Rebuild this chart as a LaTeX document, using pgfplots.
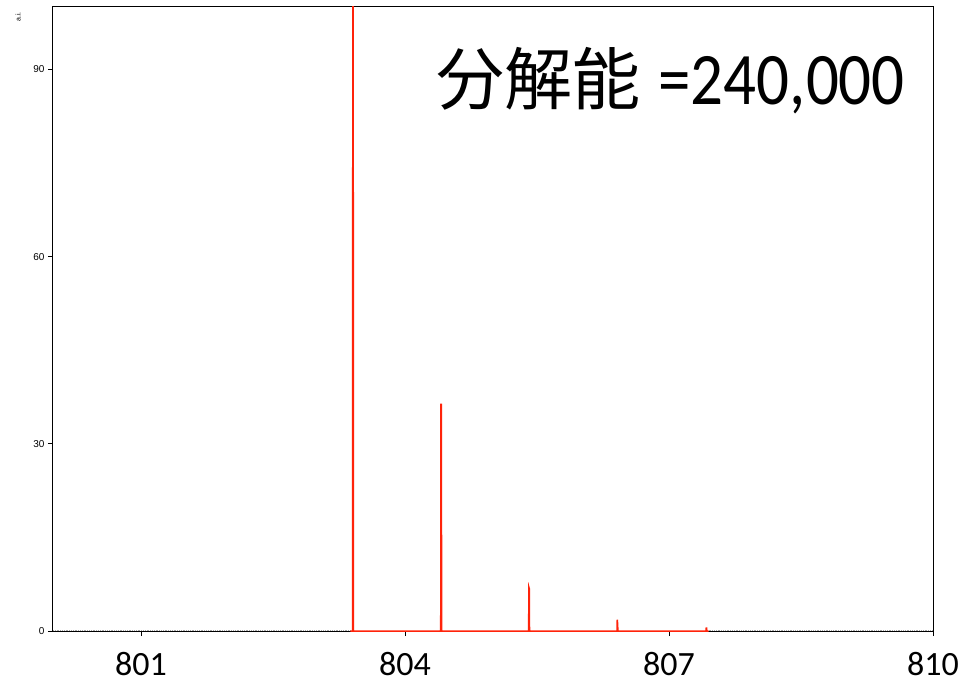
\documentclass[border=0pt]{standalone}
\usepackage{pgfplots}
\pgfplotsset{compat=1.18}
\usepackage{fontspec}
\setmainfont{Carlito}
\newfontfamily\cjk{Noto Sans CJK JP}
\newfontfamily\arial{Liberation Sans}
\definecolor{specred}{RGB}{255,35,10}

% mass spectrum: isotope peaks, intensity in a.i.
\pgfplotstableread{
x        y
803.380  0
803.404  0
803.407  100.5
803.411  100.5
803.414  0
804.406  0
804.409  36.3
804.413  36.3
804.416  0
805.405  0
805.408  7.0
805.412  6.8
805.415  0
806.409  0
806.412  1.8
806.416  1.2
806.419  0
807.420  0
807.423  0.45
807.427  0.45
807.430  0
807.450  0
}\spectrum

\begin{document}
\begin{tikzpicture}
\begin{axis}[
  scale only axis,
  width=880pt, height=624pt,
  xmin=800, xmax=810, ymin=0, ymax=100,
  xtick={801,804,807,810},
  ytick={0,30,60,90},
  xtick pos=bottom, ytick pos=left,
  tick align=outside,
  major tick length=5pt,
  axis line style={black, line width=1pt},
  tick style={black, line width=0.8pt},
  /pgf/number format/assume math mode=true,
  xticklabel style={font=\fontsize{34}{34}\selectfont, yshift=-13pt},
  yticklabel style={font=\arial\fontsize{10}{10}\selectfont},
  clip=true,
]
% baseline noise outside the peak region
\addplot[gray!70, densely dotted, line width=0.8pt] coordinates {(800,0.15) (803.38,0.15)};
\addplot[gray!70, densely dotted, line width=0.8pt] coordinates {(807.45,0.15) (810,0.15)};
\addplot[specred, line width=1.5pt, line join=miter] table[x=x, y=y] {\spectrum};
\end{axis}
\node[rotate=90, font=\arial\fontsize{7}{7}\selectfont] at ([shift={(-35pt,-10pt)}]current axis.north west) {a.i.};
\node[anchor=base east, inner sep=0pt] at ([shift={(-28pt,-98pt)}]current axis.north east)
  {{\cjk\fontsize{68}{68}\selectfont 分解能}\hspace{18pt}\scalebox{1}[1.14]{\fontsize{65}{65}\selectfont =240,000}};
\pgfresetboundingbox
\useasboundingbox ([shift={(-53pt,-52pt)}]current axis.south west) rectangle ([shift={(25pt,7pt)}]current axis.north east);
\end{tikzpicture}
\end{document}
